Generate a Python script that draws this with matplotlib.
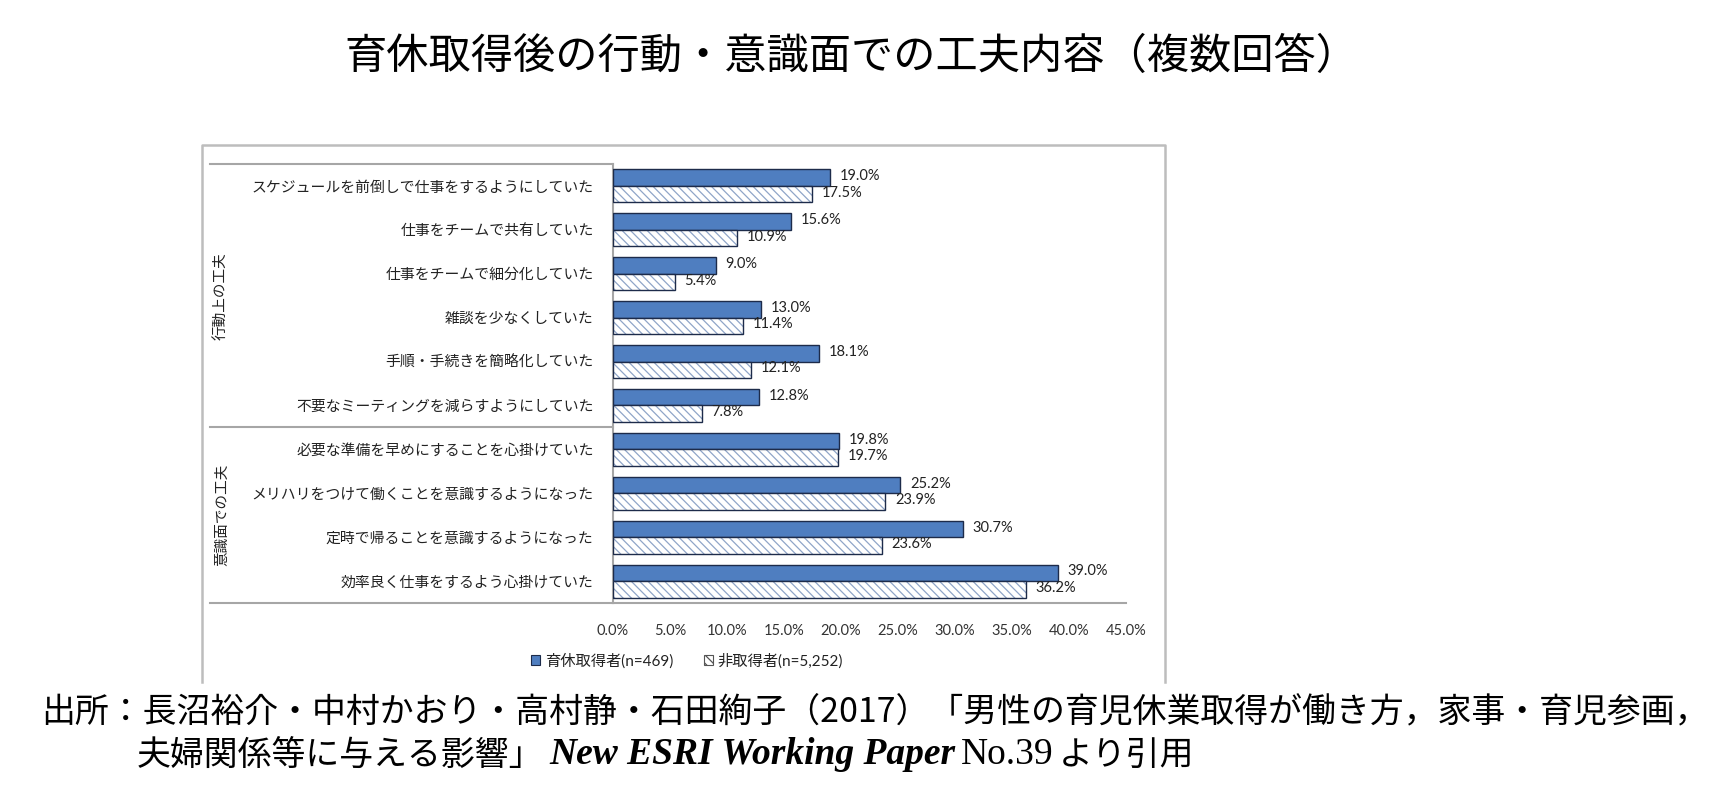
import matplotlib
matplotlib.use("Agg")
import matplotlib.pyplot as plt
from matplotlib.patches import Patch
from matplotlib.lines import Line2D
from matplotlib.offsetbox import TextArea, HPacker, AnnotationBbox
import numpy as np

# ---------------- data ----------------
title = "育休取得後の行動・意識面での工夫内容（複数回答）"
categories = [
    "スケジュールを前倒しで仕事をするようにしていた",
    "仕事をチームで共有していた",
    "仕事をチームで細分化していた",
    "雑談を少なくしていた",
    "手順・手続きを簡略化していた",
    "不要なミーティングを減らすようにしていた",
    "必要な準備を早めにすることを心掛けていた",
    "メリハリをつけて働くことを意識するようになった",
    "定時で帰ることを意識するようになった",
    "効率良く仕事をするよう心掛けていた",
]
takers = [19.0, 15.6, 9.0, 13.0, 18.1, 12.8, 19.8, 25.2, 30.7, 39.0]
non_takers = [17.5, 10.9, 5.4, 11.4, 12.1, 7.8, 19.7, 23.9, 23.6, 36.2]
series_names = ["育休取得者(n=469)", "非取得者(n=5,252)"]
groups = ["行動上の工夫", "意識面での工夫"]
group_sizes = [6, 4]
xticks = [0, 5, 10, 15, 20, 25, 30, 35, 40, 45]
source_line1 = "出所：長沼裕介・中村かおり・高村静・石田絢子（2017）「男性の育児休業取得が働き方，家事・育児参画，"
source_line2 = ["夫婦関係等に与える影響」", "New ESRI Working Paper", "No.39", "より引用"]

# ---------------- style ----------------
W, H = 1724, 800
JP = "Noto Sans CJK JP"
NUM = ["Lato", "Noto Sans CJK JP"]
BLUE = "#4F7EC0"
EDGE = "#1d2b4a"
HATCH_C = "#8FA5C8"
GRAY = "#A6A6A6"
TXT = "#222222"

plt.rcParams["hatch.linewidth"] = 0.9

fig = plt.figure(figsize=(W / 100, H / 100), dpi=100)
fig.patch.set_facecolor("white")

def fx(px):
    return px / W

def fy(py):
    return 1 - py / H

ax_left, ax_right, ax_top, ax_bottom = 613, 1126, 164, 603
ax = fig.add_axes([fx(ax_left), fy(ax_bottom), fx(ax_right - ax_left), (ax_bottom - ax_top) / H])

n = len(categories)
y = np.arange(n)
bh = 0.375

ax.barh(y - bh / 2, takers, height=bh, color=BLUE, edgecolor=EDGE, linewidth=1.0, zorder=3)
ax.barh(y + bh / 2, non_takers, height=bh, color="white", edgecolor=HATCH_C,
        hatch="\\\\\\\\", linewidth=0, zorder=3)
ax.barh(y + bh / 2, non_takers, height=bh, fill=False, edgecolor=EDGE, linewidth=1.0, zorder=4)

for yi, v in zip(y, takers):
    ax.annotate(f"{v:.1f}%", (v, yi - bh / 2), xytext=(7, 1), textcoords="offset points",
                va="center", ha="left", fontsize=10.5, family=NUM, color=TXT, zorder=6)
for yi, v in zip(y, non_takers):
    ax.annotate(f"{v:.1f}%", (v, yi + bh / 2), xytext=(7, 1), textcoords="offset points",
                va="center", ha="left", fontsize=10.5, family=NUM, color=TXT, zorder=6)

ax.set_xlim(0, 45)
ax.set_ylim(n - 0.5, -0.5)
ax.set_xticks(xticks)
ax.set_xticklabels([f"{t:.1f}%" for t in xticks], fontsize=10.5, family=NUM, color="#333333")
ax.set_yticks(y)
ax.set_yticklabels(categories, fontsize=10.7, family=JP, color=TXT)
ax.tick_params(axis="x", length=0, pad=15)
ax.tick_params(axis="y", length=0, pad=14)
for s in ["top", "right"]:
    ax.spines[s].set_visible(False)
for s in ["left", "bottom"]:
    ax.spines[s].set_color(GRAY)
    ax.spines[s].set_linewidth(1.5)

# table lines on the category side
tr = ax.get_yaxis_transform()
x_tab = (210 - ax_left) / (ax_right - ax_left)
bounds = [-0.5]
acc = -0.5
for gs in group_sizes:
    acc += gs
    bounds.append(acc)
for b in bounds:
    ax.add_line(Line2D([x_tab, 0], [b, b], transform=tr, color=GRAY, lw=1.5, clip_on=False))

# group labels
x_grp = (222 - ax_left) / (ax_right - ax_left)
start = -0.5
for g, gs in zip(groups, group_sizes):
    mid = start + gs / 2
    ax.text(x_grp, mid, g, transform=tr, rotation=90, ha="center", va="center",
            fontsize=10.5, family=JP, color=TXT)
    start += gs

# outer frame (no bottom edge visible)
fig.add_artist(Line2D([fx(202), fx(202), fx(1165), fx(1165)],
                      [fy(682), fy(145), fy(145), fy(682)],
                      transform=fig.transFigure, color="#BDBDBD", lw=1.8))

# legend
handles = [Patch(facecolor=BLUE, edgecolor=EDGE, linewidth=0.8),
           Patch(facecolor="white", edgecolor="#555555", hatch="\\\\\\\\", linewidth=0.8)]
leg = fig.legend(handles, series_names, loc="center", bbox_to_anchor=(fx(687), fy(661)),
                 ncol=2, frameon=False, handlelength=0.6, handleheight=0.6,
                 handletextpad=0.3, columnspacing=2.0,
                 prop={"family": NUM, "size": 11})
for t in leg.get_texts():
    t.set_color(TXT)

# title
fig.text(fx(851), fy(57), title, ha="center", va="center", fontsize=30.4, family=JP, color="black")

# source
fig.text(fx(41), fy(712), source_line1, ha="left", va="center", fontsize=24.4, family=JP, color="black")
parts = [
    TextArea(source_line2[0], textprops=dict(family=JP, size=24.4, color="black")),
    TextArea(source_line2[1], textprops=dict(family="Liberation Serif", style="italic",
                                             weight="bold", size=27, color="black")),
    TextArea(source_line2[2], textprops=dict(family="Liberation Serif", size=27, color="black")),
    TextArea(source_line2[3], textprops=dict(family=JP, size=24.4, color="black")),
]
box = HPacker(children=parts, align="baseline", pad=0, sep=4)
ab = AnnotationBbox(box, (fx(137), fy(755)), xycoords="figure fraction",
                    box_alignment=(0, 0.5), frameon=False, pad=0)
fig.add_artist(ab)

fig.savefig("out.png", dpi=100, facecolor="white")
